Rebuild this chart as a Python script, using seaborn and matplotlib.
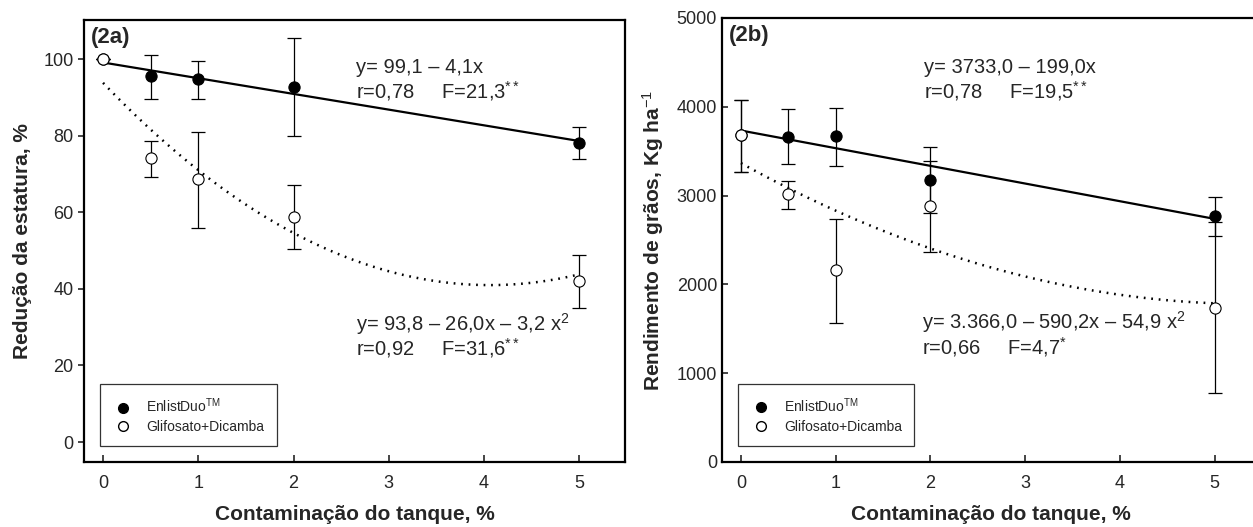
import numpy as np
import pandas as pd
import matplotlib
matplotlib.use('Agg')
import matplotlib.pyplot as plt
import seaborn as sns
from matplotlib.lines import Line2D

# doses (tank contamination, %)
doses = [0, 0.5, 1, 2, 5]

# (2a) height reduction, %
est_enlist = [100, 95.6, 94.7, 92.8, 78.1]
est_enlist_lo = [100, 89.7, 89.5, 79.9, 73.8]
est_enlist_hi = [100, 101.0, 99.5, 105.4, 82.2]
est_glif = [100, 74.2, 68.6, 58.8, 42.0]
est_glif_lo = [100, 69.2, 55.8, 50.3, 34.9]
est_glif_hi = [100, 78.7, 80.9, 67.1, 48.8]

# (2b) grain yield, kg/ha
rend_enlist = [3683, 3663, 3671, 3176, 2770]
rend_enlist_lo = [3269, 3356, 3337, 2804, 2550]
rend_enlist_hi = [4077, 3972, 3983, 3544, 2981]
rend_glif = [3683, 3014, 2162, 2886, 1738]
rend_glif_lo = [3269, 2846, 1562, 2362, 774]
rend_glif_hi = [4077, 3164, 2733, 3393, 2702]

# fitted regression coefficients (c0, c1, c2)
coef_a_lin = [99.1, -4.1]
coef_a_quad = [93.8, -26.0, 3.2]
coef_b_lin = [3733.0, -199.0]
coef_b_quad = [3366.0, -590.2, 54.9]

series_names = ['EnlistDuo$^{\\mathrm{TM}}$', 'Glifosato+Dicamba']

sns.set_style('ticks')
plt.rcParams['font.family'] = ['Liberation Sans', 'DejaVu Sans']
plt.rcParams['mathtext.fontset'] = 'custom'
plt.rcParams['mathtext.rm'] = 'Liberation Sans'
plt.rcParams['mathtext.it'] = 'Liberation Sans:italic'
plt.rcParams['mathtext.bf'] = 'Liberation Sans:bold'

fig = plt.figure(figsize=(12.53, 5.27), dpi=100)
ax_a = fig.add_axes([84 / 1253, 1 - 462 / 527, 541 / 1253, 442 / 527])
ax_b = fig.add_axes([722 / 1253, 1 - 462 / 527, 538 / 1253, 444 / 527])

x_fit = np.linspace(0, 5, 120)


def fit_curve(coefs):
    return sum(c * x_fit ** i for i, c in enumerate(coefs))


def draw_panel(ax, y1, lo1, hi1, y2, lo2, hi2, lin, quad):
    y1, lo1, hi1 = np.array(y1), np.array(lo1), np.array(hi1)
    y2, lo2, hi2 = np.array(y2), np.array(lo2), np.array(hi2)

    # regression lines
    sns.lineplot(x=x_fit, y=fit_curve(lin), ax=ax, color='black', lw=1.6, zorder=2)
    sns.lineplot(x=x_fit, y=fit_curve(quad), ax=ax, color='black', lw=1.8,
                 linestyle=(0, (0.7, 2.3)), zorder=2)

    # error bars
    ax.errorbar(doses, y1, yerr=[y1 - lo1, hi1 - y1], fmt='none', ecolor='black',
                elinewidth=0.9, capsize=5, capthick=0.9, zorder=3)
    ax.errorbar(doses, y2, yerr=[y2 - lo2, hi2 - y2], fmt='none', ecolor='black',
                elinewidth=0.9, capsize=5, capthick=0.9, zorder=3)

    df = pd.DataFrame({'x': doses, 'y1': y1, 'y2': y2})
    sns.scatterplot(data=df, x='x', y='y1', ax=ax, color='black', edgecolor='black',
                    s=65, linewidth=0.8, zorder=4)
    sns.scatterplot(data=df, x='x', y='y2', ax=ax, color='white', edgecolor='black',
                    s=65, linewidth=0.8, zorder=5)

    ax.set_xlim(-0.2, 5.48)
    ax.set_xticks([0, 1, 2, 3, 4, 5])
    ax.tick_params(axis='x', direction='in', length=5, width=1.2, labelsize=13, pad=9)
    ax.tick_params(axis='y', direction='out', length=4, width=1.2, labelsize=13)
    for sp in ax.spines.values():
        sp.set_linewidth(1.6)
        sp.set_color('black')
    ax.set_xlabel('Contaminação do tanque, %', fontsize=15, fontweight='bold', labelpad=10)

    handles = [
        Line2D([], [], marker='o', ls='none', mfc='black', mec='black', ms=7),
        Line2D([], [], marker='o', ls='none', mfc='white', mec='black', ms=7),
    ]
    leg = ax.legend(handles, series_names, loc='lower left',
                    bbox_to_anchor=(0.03, 0.036), fontsize=10, frameon=True,
                    fancybox=False, borderpad=0.9, labelspacing=0.3,
                    handletextpad=0.9, handlelength=1.5, borderaxespad=0)
    leg.get_frame().set_edgecolor('black')
    leg.get_frame().set_linewidth(0.9)


draw_panel(ax_a, est_enlist, est_enlist_lo, est_enlist_hi,
           est_glif, est_glif_lo, est_glif_hi, coef_a_lin, coef_a_quad)
ax_a.set_ylim(-5.2, 110.2)
ax_a.set_yticks([0, 20, 40, 60, 80, 100])
ax_a.set_ylabel('Redução da estatura, %', fontsize=15, fontweight='bold', labelpad=8)
ax_a.text(0.012, 0.985, '(2a)', transform=ax_a.transAxes, fontsize=16,
          fontweight='bold', va='top', ha='left')
ax_a.text(2.66, 97.9, 'y= 99,1 – 4,1x', fontsize=14.5, va='center')
ax_a.text(2.66, 91.7, 'r=0,78     F=21,3$^{**}$', fontsize=14.5, va='center')
ax_a.text(2.66, 30.8, 'y= 93,8 – 26,0x – 3,2 x$^{2}$', fontsize=14.5, va='center')
ax_a.text(2.66, 24.6, 'r=0,92     F=31,6$^{**}$', fontsize=14.5, va='center')

draw_panel(ax_b, rend_enlist, rend_enlist_lo, rend_enlist_hi,
           rend_glif, rend_glif_lo, rend_glif_hi, coef_b_lin, coef_b_quad)
ax_b.set_ylim(0, 5000)
ax_b.set_yticks([0, 1000, 2000, 3000, 4000, 5000])
ax_b.tick_params(axis='y', direction='in')
ax_b.set_ylabel('Rendimento de grãos, Kg ha$^{-1}$', fontsize=15, fontweight='bold', labelpad=8)
ax_b.text(0.012, 0.985, '(2b)', transform=ax_b.transAxes, fontsize=16,
          fontweight='bold', va='top', ha='left')
ax_b.text(1.93, 4445, 'y= 3733,0 – 199,0x', fontsize=14.5, va='center')
ax_b.text(1.93, 4180, 'r=0,78     F=19,5$^{**}$', fontsize=14.5, va='center')
ax_b.text(1.91, 1575, 'y= 3.366,0 – 590,2x – 54,9 x$^{2}$', fontsize=14.5, va='center')
ax_b.text(1.91, 1296, 'r=0,66     F=4,7$^{*}$', fontsize=14.5, va='center')

fig.savefig('out.png', dpi=100)
